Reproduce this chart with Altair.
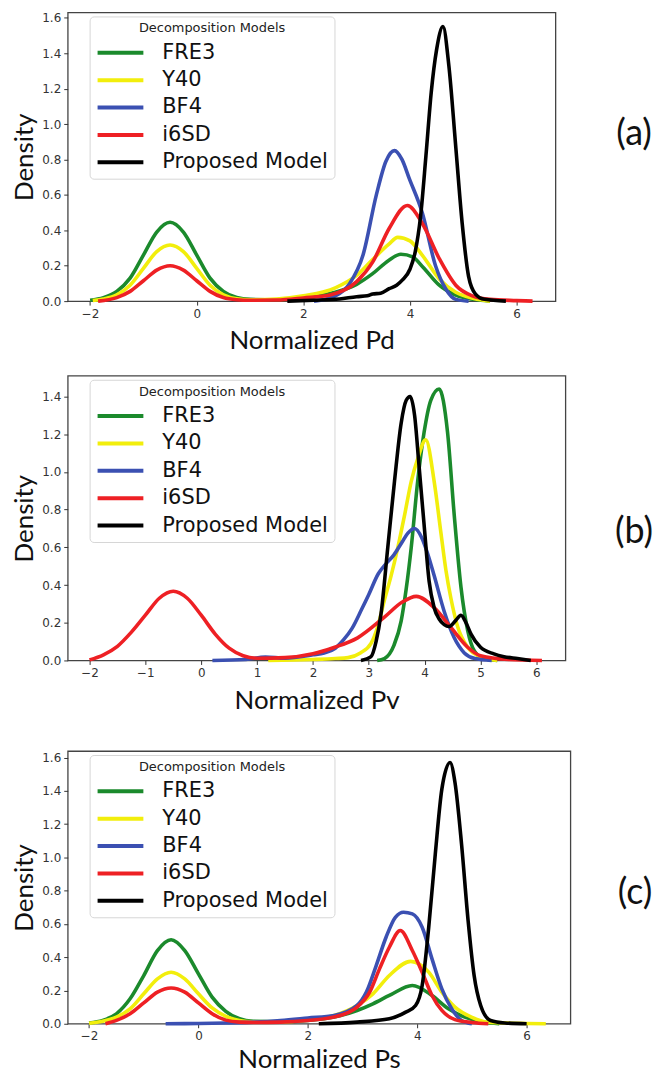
import altair as alt
import pandas as pd

MODELS = ["FRE3", "Y40", "BF4", "i6SD", "Proposed Model"]
COLORS = ["#1b8a2c", "#f2ee0c", "#3b50b2", "#ee2024", "#000000"]
PANEL_LABELS = ["(a)", "(b)", "(c)"]
X_TITLES = ["Normalized Pd", "Normalized Pv", "Normalized Ps"]

# ---------------- Panel (a): Normalized Pd ----------------
a_fre3_x = [-2.0, -1.75, -1.5, -1.25, -1.0, -0.75, -0.5, -0.25, 0.0, 0.25, 0.5, 0.75, 1.0, 1.5, 2.0, 2.3, 2.6, 3.0, 3.3, 3.6, 3.83, 4.05, 4.25, 4.55, 4.85, 5.2, 5.5]
a_fre3_y = [0.005, 0.02, 0.055, 0.13, 0.26, 0.39, 0.445, 0.39, 0.26, 0.13, 0.055, 0.02, 0.01, 0.008, 0.018, 0.03, 0.05, 0.095, 0.155, 0.23, 0.265, 0.25, 0.19, 0.09, 0.035, 0.01, 0.0]
a_y40_x = [-1.95, -1.75, -1.5, -1.25, -1.0, -0.75, -0.5, -0.25, 0.0, 0.25, 0.5, 0.75, 1.0, 1.5, 2.0, 2.6, 3.0, 3.3, 3.6, 3.77, 4.0, 4.23, 4.55, 4.86, 5.2, 5.5]
a_y40_y = [0.003, 0.012, 0.035, 0.09, 0.185, 0.28, 0.317, 0.28, 0.185, 0.09, 0.035, 0.013, 0.008, 0.012, 0.03, 0.075, 0.145, 0.235, 0.32, 0.36, 0.34, 0.26, 0.125, 0.05, 0.015, 0.0]
a_bf4_x = [2.2, 2.6, 2.87, 3.12, 3.37, 3.55, 3.71, 3.85, 3.99, 4.23, 4.48, 4.67, 4.86, 5.1]
a_bf4_y = [0.0, 0.03, 0.1, 0.26, 0.6, 0.79, 0.85, 0.8, 0.69, 0.5, 0.2, 0.07, 0.01, 0.0]
a_i6sd_x = [-1.85, -1.5, -1.25, -1.0, -0.75, -0.5, -0.25, 0.0, 0.25, 0.5, 0.75, 1.0, 1.5, 2.0, 2.5, 3.0, 3.3, 3.61, 3.95, 4.23, 4.55, 4.86, 5.17, 5.5, 6.0, 6.3]
a_i6sd_y = [0.0, 0.02, 0.055, 0.115, 0.175, 0.2, 0.175, 0.115, 0.055, 0.02, 0.008, 0.005, 0.006, 0.018, 0.035, 0.11, 0.22, 0.41, 0.54, 0.44, 0.24, 0.09, 0.03, 0.01, 0.003, 0.0]
a_prop_x = [1.7, 2.2, 2.68, 3.0, 3.2, 3.3, 3.45, 3.61, 3.75, 3.86, 4.0, 4.1, 4.2, 4.3, 4.4, 4.5, 4.62, 4.73, 4.86, 4.98, 5.1, 5.23, 5.4, 5.8]
a_prop_y = [0.0, 0.005, 0.012, 0.025, 0.03, 0.04, 0.045, 0.07, 0.09, 0.12, 0.18, 0.28, 0.48, 0.82, 1.18, 1.42, 1.55, 1.33, 0.87, 0.44, 0.14, 0.04, 0.01, 0.0]

# ---------------- Panel (b): Normalized Pv ----------------
b_fre3_x = [3.15, 3.28, 3.45, 3.58, 3.67, 3.76, 3.875, 3.99, 4.11, 4.26, 4.41, 4.53, 4.65, 4.77, 4.89, 5.05, 5.3]
b_fre3_y = [0.0, 0.01, 0.08, 0.21, 0.38, 0.6, 0.95, 1.21, 1.38, 1.44, 1.21, 0.77, 0.39, 0.16, 0.05, 0.01, 0.0]
b_y40_x = [1.2, 2.0, 2.4, 2.63, 2.85, 3.04, 3.16, 3.28, 3.4, 3.52, 3.64, 3.76, 3.875, 4.02, 4.17, 4.29, 4.38, 4.47, 4.59, 4.77, 5.0, 5.3]
b_y40_y = [0.0, 0.005, 0.01, 0.015, 0.04, 0.09, 0.18, 0.32, 0.45, 0.6, 0.77, 0.95, 1.07, 1.17, 0.95, 0.68, 0.48, 0.33, 0.18, 0.07, 0.02, 0.0]
b_bf4_x = [0.2, 0.8, 1.15, 1.5, 2.0, 2.2, 2.4, 2.55, 2.7, 2.87, 3.0, 3.17, 3.3, 3.45, 3.6, 3.7, 3.82, 3.95, 4.05, 4.17, 4.35, 4.53, 4.71, 4.9, 5.2]
b_bf4_y = [0.0, 0.005, 0.018, 0.012, 0.03, 0.04, 0.065, 0.11, 0.17, 0.27, 0.35, 0.46, 0.51, 0.56, 0.63, 0.675, 0.7, 0.65, 0.57, 0.45, 0.26, 0.12, 0.04, 0.01, 0.0]
b_i6sd_x = [-2.0, -1.75, -1.5, -1.25, -1.0, -0.75, -0.5, -0.25, 0.0, 0.25, 0.5, 0.75, 1.0, 1.5, 2.0, 2.39, 2.8, 3.28, 3.6, 3.85, 4.17, 4.47, 4.77, 5.0, 5.5, 6.1]
b_i6sd_y = [0.003, 0.03, 0.075, 0.15, 0.24, 0.33, 0.367, 0.33, 0.24, 0.14, 0.065, 0.025, 0.012, 0.015, 0.035, 0.07, 0.12, 0.23, 0.31, 0.34, 0.28, 0.175, 0.07, 0.025, 0.005, 0.0]
b_prop_x = [2.86, 3.04, 3.13, 3.22, 3.34, 3.46, 3.58, 3.67, 3.74, 3.82, 3.9, 3.99, 4.08, 4.17, 4.26, 4.35, 4.44, 4.55, 4.65, 4.74, 4.83, 5.0, 5.24, 5.42, 5.66, 5.9]
b_prop_y = [0.0, 0.02, 0.1, 0.25, 0.6, 0.95, 1.26, 1.38, 1.4, 1.3, 1.03, 0.72, 0.42, 0.28, 0.22, 0.19, 0.18, 0.21, 0.24, 0.2, 0.14, 0.07, 0.035, 0.02, 0.01, 0.0]

# ---------------- Panel (c): Normalized Ps ----------------
c_fre3_x = [-2.0, -1.75, -1.5, -1.25, -1.0, -0.75, -0.5, -0.25, 0.0, 0.25, 0.5, 0.75, 1.0, 1.5, 2.0, 2.48, 2.9, 3.19, 3.49, 3.91, 4.27, 4.57, 4.87, 5.2, 5.5]
c_fre3_y = [0.005, 0.02, 0.06, 0.15, 0.29, 0.44, 0.505, 0.44, 0.3, 0.16, 0.075, 0.03, 0.015, 0.012, 0.02, 0.04, 0.08, 0.12, 0.17, 0.23, 0.17, 0.09, 0.04, 0.01, 0.0]
c_y40_x = [-2.0, -1.75, -1.5, -1.25, -1.0, -0.75, -0.5, -0.25, 0.0, 0.25, 0.5, 0.75, 1.0, 1.5, 2.0, 2.48, 2.9, 3.19, 3.49, 3.88, 4.21, 4.45, 4.69, 4.99, 5.28, 6.0, 6.35]
c_y40_y = [0.003, 0.015, 0.04, 0.09, 0.18, 0.27, 0.31, 0.27, 0.18, 0.095, 0.045, 0.02, 0.012, 0.012, 0.025, 0.05, 0.11, 0.18, 0.29, 0.375, 0.31, 0.19, 0.1, 0.04, 0.01, 0.002, 0.0]
c_bf4_x = [-0.6, 0.0, 0.5, 1.0, 1.5, 2.0, 2.48, 2.9, 3.07, 3.25, 3.43, 3.6, 3.75, 3.91, 4.09, 4.27, 4.45, 4.63, 4.81, 5.0]
c_bf4_y = [0.0, 0.002, 0.005, 0.01, 0.02, 0.035, 0.05, 0.11, 0.19, 0.35, 0.52, 0.64, 0.67, 0.66, 0.58, 0.39, 0.21, 0.09, 0.02, 0.0]
c_i6sd_x = [-1.7, -1.5, -1.25, -1.0, -0.75, -0.5, -0.25, 0.0, 0.25, 0.5, 0.75, 1.0, 1.5, 2.0, 2.48, 2.9, 3.13, 3.31, 3.49, 3.69, 3.91, 4.09, 4.27, 4.45, 4.69, 5.0, 5.3]
c_i6sd_y = [0.0, 0.02, 0.06, 0.125, 0.19, 0.215, 0.19, 0.125, 0.06, 0.022, 0.01, 0.008, 0.01, 0.02, 0.04, 0.1, 0.19, 0.33, 0.46, 0.56, 0.44, 0.31, 0.17, 0.08, 0.025, 0.008, 0.0]
c_prop_x = [2.2, 2.9, 3.49, 3.79, 3.97, 4.09, 4.21, 4.33, 4.45, 4.6, 4.69, 4.81, 4.93, 5.04, 5.16, 5.34, 5.6, 6.0]
c_prop_y = [0.0, 0.01, 0.03, 0.07, 0.11, 0.23, 0.58, 1.02, 1.41, 1.57, 1.45, 1.08, 0.62, 0.29, 0.11, 0.02, 0.005, 0.0]

SERIES = [
    [(a_fre3_x, a_fre3_y), (a_y40_x, a_y40_y), (a_bf4_x, a_bf4_y), (a_i6sd_x, a_i6sd_y), (a_prop_x, a_prop_y)],
    [(b_fre3_x, b_fre3_y), (b_y40_x, b_y40_y), (b_bf4_x, b_bf4_y), (b_i6sd_x, b_i6sd_y), (b_prop_x, b_prop_y)],
    [(c_fre3_x, c_fre3_y), (c_y40_x, c_y40_y), (c_bf4_x, c_bf4_y), (c_i6sd_x, c_i6sd_y), (c_prop_x, c_prop_y)],
]

X_DOMAINS = [[-2.42, 6.73], [-2.39, 6.52], [-2.39, 6.80]]
Y_DOMAINS = [[0, 1.63], [0, 1.51], [0, 1.639]]
X_TICKS = [[-2, 0, 2, 4, 6], [-2, -1, 0, 1, 2, 3, 4, 5, 6], [-2, 0, 2, 4, 6]]
Y_TICKS = [[0, 0.2, 0.4, 0.6, 0.8, 1.0, 1.2, 1.4, 1.6],
           [0, 0.2, 0.4, 0.6, 0.8, 1.0, 1.2, 1.4],
           [0, 0.2, 0.4, 0.6, 0.8, 1.0, 1.2, 1.4, 1.6]]
SIZES = [(490, 290), (500, 286), (505, 274)]
LABEL_POS = [(569, 122), (569, 157), (570, 143)]
X_TITLE_PAD = [9, 9, 5]

TITLE_FONT = "Lato"
TICK_FONT = "DejaVu Sans"


def panel(i):
    rows = []
    for name, (xs, ys) in zip(MODELS, SERIES[i]):
        for xv, yv in zip(xs, ys):
            rows.append({"model": name, "x": xv, "y": yv, "order": MODELS.index(name)})
    df = pd.DataFrame(rows)
    w, h = SIZES[i]
    lines = alt.Chart(df).mark_line(strokeWidth=3.6, interpolate="monotone").encode(
        x=alt.X("x:Q", scale=alt.Scale(domain=X_DOMAINS[i], nice=False, zero=False),
                axis=alt.Axis(title=X_TITLES[i], values=X_TICKS[i], grid=False, domain=False,
                              tickSize=4, tickColor="#333", labelFont=TICK_FONT, labelFontSize=12,
                              labelColor="#333", labelPadding=3,
                              labelExpr="replace(datum.label, '-', '\u2212')",
                              titleFont=TITLE_FONT, titleFontSize=26, titleFontWeight="normal",
                              titleColor="#111", titlePadding=X_TITLE_PAD[i])),
        y=alt.Y("y:Q", scale=alt.Scale(domain=Y_DOMAINS[i], nice=False),
                axis=alt.Axis(title="Density", values=Y_TICKS[i], format=".1f", grid=False,
                              domain=False, tickSize=4, tickColor="#333", labelFont=TICK_FONT,
                              labelFontSize=12, labelColor="#333", labelPadding=3,
                              titleFont=TITLE_FONT, titleFontSize=26, titleFontWeight="normal",
                              titleColor="#111", titlePadding=4)),
        color=alt.Color("model:N", scale=alt.Scale(domain=MODELS, range=COLORS),
                        legend=alt.Legend(title="Decomposition Models", orient="none",
                                          legendX=22, legendY=4, direction="vertical",
                                          titleFont=TICK_FONT, titleFontSize=13,
                                          titleFontWeight="normal", titleColor="#222",
                                          titleAnchor="middle", titlePadding=4,
                                          labelFont=TICK_FONT, labelFontSize=21,
                                          labelColor="#111", labelOffset=40, labelLimit=0,
                                          symbolType="M-1,0H3", symbolSize=529,
                                          symbolStrokeWidth=4, rowPadding=3.5, padding=6,
                                          fillColor="white", strokeColor="#d6d6d6",
                                          cornerRadius=4)),
        order=alt.Order("order:Q"),
        detail="model:N",
    )
    lab = pd.DataFrame({"label": [PANEL_LABELS[i]]})
    lx, ly = LABEL_POS[i]
    text = alt.Chart(lab).mark_text(font=TITLE_FONT, fontSize=36, color="#111",
                                    align="center", baseline="middle").encode(
        x=alt.value(lx), y=alt.value(ly), text="label:N")
    return alt.layer(lines, text).properties(
        width=w, height=h, view=alt.ViewBackground(stroke="#444444", strokeWidth=1.3))


top = panel(0)
bottom = alt.vconcat(panel(1), panel(2), spacing=36).resolve_scale(
    color="independent").resolve_legend(color="independent")
chart = alt.vconcat(top, bottom, spacing=20).resolve_scale(color="independent").resolve_legend(
    color="independent"
).properties(padding={"left": 3, "top": 0, "right": 0, "bottom": 2}).configure_view(
    stroke="#444444", strokeWidth=1.3
).configure(background="white")

chart.save("out.html", embed_options={"renderer": "svg", "actions": False})
